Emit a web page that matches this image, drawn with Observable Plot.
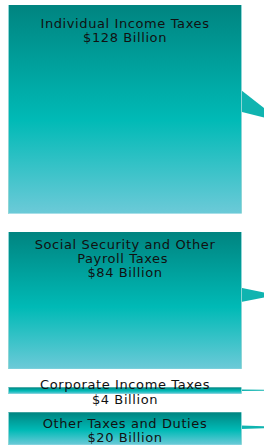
<!DOCTYPE html>
<html><head><meta charset="utf-8">
<script src="https://cdn.jsdelivr.net/npm/d3@7"></script>
<script src="https://cdn.jsdelivr.net/npm/@observablehq/plot@0.6"></script>
<style>body{margin:0;background:#fff}</style>
</head><body><div id="chart"></div>
<script>
// Data
const categories = [
  "Individual Income Taxes",
  "Social Security and Other\nPayroll Taxes\u00a0",
  "Corporate Income Taxes",
  "Other Taxes and Duties"
];
const values = [128, 84, 4, 20]; // $ billions

// Layout (in value units)
const gap = 11.3;
const labelOffset = [7.3, 3.6, -5.2, 3.0];
const tipDrop = [13, 0, 0, 0];
const tipX = [117.6, 115, 125, 125];

let acc = 0;
const boxes = categories.map((c, i) => {
  const top = acc;
  acc += values[i] + gap;
  return {i, name: c, value: values[i], top, bottom: top + values[i],
          label: c + "\n$" + values[i] + " Billion"};
});

const wedges = boxes.flatMap(b => {
  const center = b.top + 0.46 * b.value;
  const half = Math.max(0.45, 0.052 * b.value);
  return [
    {i: b.i, x: 100, y1: center - half, y2: center + half},
    {i: b.i, x: tipX[b.i], y1: center + tipDrop[b.i], y2: center + tipDrop[b.i]}
  ];
});

const defs = () => {
  const d = d3.create("svg:defs");
  const g = d.append("linearGradient").attr("id", "boxGrad")
    .attr("x1", 0).attr("y1", 0).attr("x2", 0).attr("y2", 1);
  [[0, "#008480"], [0.55, "#00bab6"], [1, "#6ccad8"]].forEach(([o, c]) =>
    g.append("stop").attr("offset", o).attr("stop-color", c));
  return d.node();
};

const chart = Plot.plot({
  width: 264,
  height: 445,
  marginLeft: 8,
  marginRight: 23,
  marginTop: 5,
  marginBottom: 0,
  x: {domain: [0, 100], axis: null},
  y: {domain: [0, 270], reverse: true, axis: null},
  style: {fontFamily: "DejaVu Sans, Verdana, sans-serif", fontSize: "13px", letterSpacing: "0.6px", background: "#fff"},
  marks: [
    defs,
    Plot.area(wedges, {x1: "x", y1: "y1", y2: "y2", z: "i", fill: "#10b4b0", curve: "linear"}),
    Plot.rect(boxes, {x1: 0, x2: 100, y1: "top", y2: "bottom", fill: "url(#boxGrad)"}),
    Plot.ruleX(boxes, {x: 0, y1: "top", y2: "bottom", stroke: "#8fd6d6", strokeWidth: 1}),
    Plot.ruleX(boxes, {x: 100, y1: "top", y2: "bottom", stroke: "#8fd6d6", strokeWidth: 1}),
    Plot.text(boxes, {
      x: 50,
      y: d => d.top + labelOffset[d.i],
      text: "label",
      lineAnchor: "top",
      lineHeight: 1.1,
      textAnchor: "middle",
      fill: "#111"
    })
  ]
});
document.getElementById("chart").appendChild(chart);
</script>
</body></html>
